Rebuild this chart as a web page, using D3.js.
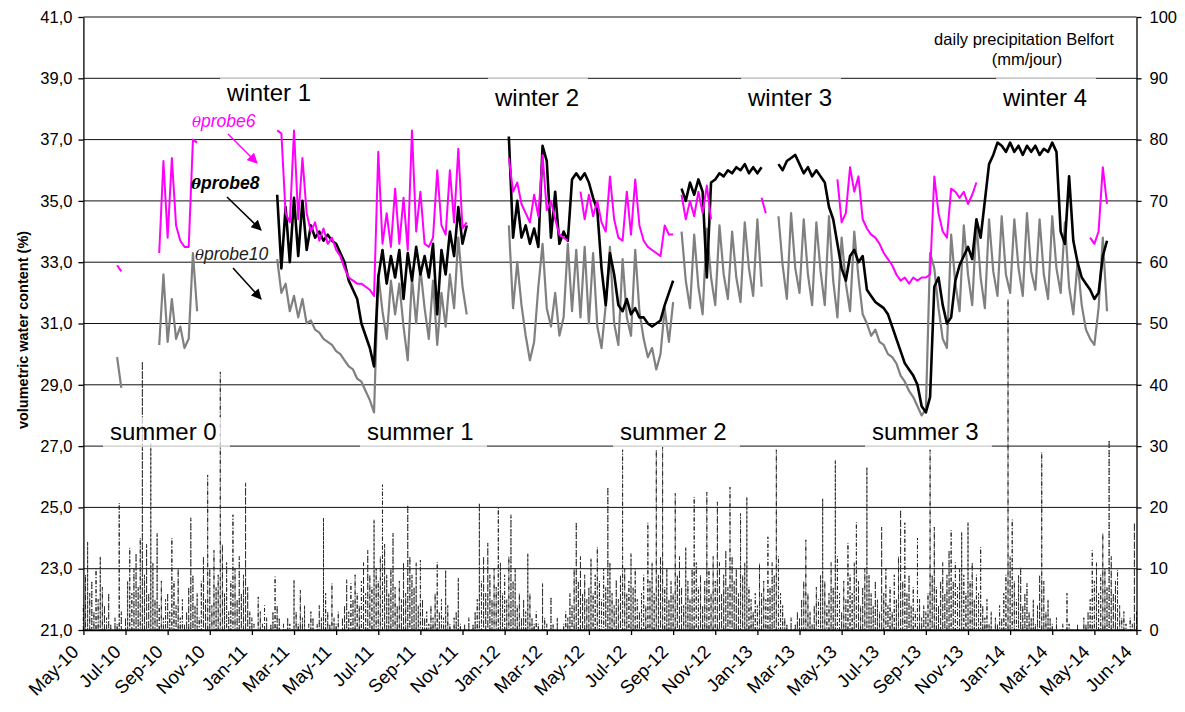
<!DOCTYPE html>
<html><head><meta charset="utf-8">
<script src="https://cdn.jsdelivr.net/npm/d3@7"></script>
<style>body{margin:0;background:#fff}svg{display:block;font-family:"Liberation Sans",Arial,sans-serif}</style>
</head><body><svg id="c" width="1185" height="712"></svg>
<script>
// ---------- DATA ----------
const xTickLabels = ["May-10","Jul-10","Sep-10","Nov-10","Jan-11","Mar-11","May-11","Jul-11","Sep-11","Nov-11","Jan-12","Mar-12","May-12","Jul-12","Sep-12","Nov-12","Jan-13","Mar-13","May-13","Jul-13","Sep-13","Nov-13","Jan-14","Mar-14","May-14","Jun-14"];
const leftTicks = [21,23,25,27,29,31,33,35,37,39,41];
const rightTicks = [0,10,20,30,40,50,60,70,80,90,100];
const probeStep = 0.1;   // one probe sample = 1/10 of a tick interval
const rainStep = 0.05;   // one rain sample = 1/20 of a tick interval

// segments: [start sample index, values]
const probe6 = [
  [8, [32.9,32.7]],
  [18,[33.3,36.3,33.8,36.4,34.2,33.7,33.5,33.5,37.0,36.9]],
  [46,[37.3,37.2,34.6,34.3,37.3,34.4,36.4,34.6,34.0,34.3,33.7,34.1,33.6,33.8,33.4,33.2,32.8,32.5,32.4,32.3,32.3,32.2,32.1,31.9,36.6,33.6,34.6,33.5,35.4,33.6,35.1,33.4,37.3,34.0,35.3,33.6,33.5,33.8,36.0,34.2,33.9,36.0,34.3,36.7,34.1,34.3]],
  [101,[36.4,35.3,35.6,34.9,34.6,34.3,35.2,34.5,36.5,34.7,35.0,34.4,33.9,33.8,33.7]],
  [118,[35.3,34.4,35.2,34.5,35.0,34.3,34.0,35.8,34.4,33.8,33.7,35.3,33.9,35.7,34.2,33.7,33.5,33.4,33.3,33.2,34.2,33.9,33.9]],
  [142,[35.2,34.4,35.0,34.5,35.3,34.6,35.5,34.4]],
  [161,[35.1,34.6]],
  [179,[35.7,34.3,34.6,36.1,35.3,35.8,34.4,34.1,33.9,33.8,33.6,33.3,33.1,32.9,32.6,32.4,32.5,32.3,32.5,32.4,32.5,32.5,32.6,35.8,34.6,34.0,33.8,35.4,35.3,35.1,35.3,34.9,35.2,35.6]],
  [239,[33.8,33.6,34.0,36.1,34.9]]
];
const probe8 = [
  [46,[35.2,32.8,34.8,33.0,35.1,33.2,35.0,33.4,34.2,33.8,34.0,33.7,33.9,33.7,33.6,33.3,33.0,32.4,32.1,31.8,31.0,30.6,30.2,29.6,32.5,33.4,32.3,33.2,32.5,33.4,31.8,33.3,32.4,33.5,32.6,33.2,32.5,33.6,31.3,33.4,32.6,34.0,33.2,34.8,33.6,34.2]],
  [101,[37.1,33.8,35.0,33.8,34.2,33.6,34.1,33.5,36.8,36.3,33.8,35.3,33.6,34.0,33.7,35.7,35.9,35.7,35.9,35.6,35.1,34.7,32.8,31.6,33.3,32.6,31.6,31.4,31.8,31.3,31.5,31.2,31.2,31.0,30.9,31.0,31.1,31.6,32.0,32.4]],
  [142,[35.4,35.0,35.6,35.2,35.7,35.3,32.5,35.6,35.7,35.9,35.8,36.0,35.9,36.1,36.0,36.2,35.9,36.1,35.9,36.1]],
  [165,[36.2,36.0,36.3,36.4,36.5,36.2,35.9,36.1,35.8,36.0,35.8,35.6,34.8,34.4,33.6,32.8,32.4,33.2,33.4,33.0,33.2,32.1,31.9,31.7,31.6,31.5,31.3,30.9,30.5,30.1,29.7,29.5,29.3,29.0,28.3,28.1,28.6,32.2,32.5,31.6,31.0,31.2,32.4,32.9,33.2,33.5,33.1,34.4,33.8,35.0,36.2,36.5,36.9,36.8,36.6,36.9,36.6,36.8,36.5,36.8,36.6,36.8,36.5,36.7,36.6,36.9,36.6,34.0,33.6,35.8,33.7,33.0,32.5,32.3,32.1,31.8,32.0,33.2,33.7]]
];
const probe10 = [
  [8, [29.9,28.9]],
  [18,[30.3,32.6,30.4,31.8,30.5,30.9,30.2,30.5,33.3,31.4]],
  [46,[33.1,32.0,32.3,31.4,31.9,31.2,31.8,31.0,31.1,30.8,30.7,30.5,30.4,30.3,30.1,30.0,29.8,29.6,29.5,29.2,29.1,28.8,28.5,28.1,32.6,31.4,30.5,32.4,31.3,32.3,30.9,29.8,32.5,31.0,32.8,31.5,30.5,32.4,30.3,32.0,30.9,32.6,31.5,33.8,32.2,31.3]],
  [101,[34.2,31.5,33.0,31.6,30.6,29.8,30.4,32.2,33.6,31.5,30.9,32.0,30.6,31.2,33.6,31.4,33.4,31.2,33.5,31.0,33.3,30.9,30.2,31.6,33.5,31.0,30.3,33.1,31.2,30.6,33.4,31.4,30.5,29.9,30.2,29.5,30.0,31.5,30.4,31.7]],
  [142,[34.0,32.4,31.5,33.9,32.2,31.3,34.1,32.5,31.6,34.2,32.6,31.8,34.0,32.5,31.7,34.3,32.8,31.9,34.4,32.2]],
  [165,[34.5,32.9,31.8,34.6,32.8,32.0,34.4,32.6,31.6,34.3,32.7,31.6,34.5,32.4,31.2,33.8,32.3,31.4,34.0,32.5,
        31.3,31.0,30.6,30.8,30.4,30.3,30.0,29.9,29.7,29.3,29.1,28.8,28.6,28.3,28.0,28.2,
        33.3,32.8,31.5,30.5,30.2,33.9,32.3,31.4,34.2,32.6,31.6,34.3,32.5,31.5,34.4,32.7,31.9,34.5,32.6,32.0,
        34.4,32.8,31.9,34.6,32.7,32.1,34.4,32.6,31.8,34.5,32.8,32.0,34.3,32.2,31.3,33.0,31.6,30.8,30.5,30.3,31.5,33.8,31.4]]
];
// daily precipitation Belfort (mm), one row per two-month tick interval
const rain = [
  4,9,14.4,6,8,3,10,5,12,7,4,2,6,1,0,2,1,20.7,3,0,
  2,8,13.4,6,10,12.5,7,15,43.8,9,14,6,30.5,11,5,15.8,4,8,2,5,
  6,3,15,8,4,10,2,5,1,3,7,18.3,9,4,6,2,8,12,5,25.3,
  10,4,13,7,9,42.1,14,6,11,3,8,18.8,10,5,12,6,9,24,7,3,
  2,1,0,5.4,3,1,4,2,0,1,3,8.7,4,2,0,1,0,2,1,0,
  8.2,3,1,6.5,2,4,0,1,3,2,0,1,4,2,18.3,6,3,1,7.6,2,
  1,3,0,2,4,8.2,3,7.6,5,9,6,4,8,11,6,13,9,7,18,10,
  8,12,23.7,14,9,6,10,15.8,7,4,8,5,11,6,20.4,12,9,7,11,4,
  11.4,5,2,3,1,4,2,6,11.1,3,5,2,9.8,4,1,0,2,3,8.5,1,
  0,1,0,2,0,1,3,5,20.7,8,12,6,14.2,9,5,10,7,19.9,11,6,
  9,5,12,18.8,8,10,4,6,2,5,3,12.5,6,2,1,3,1,0,7.6,2,
  1,0,5.4,1,0,2,0,0,1,3,2,6,4,10,17.6,8,12,6,9,5,
  7,11.7,6,9,13.5,8,5,10,7,23.3,11,6,4,8.2,5,9,29.4,10,6,8,
  12.5,7,10,5,3,6,9,4,17.5,8,11,6,29.4,9,12,29.9,7,10,5,8,
  6,22.3,9,12,7,4,13.5,8,5,10,21.7,11,7,9,4,8,22.5,10,6,12,
  8,20.9,11,6,9,13,7,23.3,12,8,10,6,19,9,11,21.7,7,5,3,6,
  4,10.9,6,8,5,15.2,7,11,9,29.4,12,6,4,2,1,0,2,0,1,3,
  2,5,8,14.7,6,3,1,4,7,5,9,21.5,8,4,6,11,7,27.7,12,6,
  3,8,5,14.2,9,6,11,17.6,8,4,7,10,26.6,9,6,4,8,5,3,16.8,
  6,10,4,7,3,9,5,12,19.6,8,17.5,6,9,4,7,3,15,5,2,4,
  3,6,29.4,9,16.8,7,4,8,11,6,9,13,16.3,8,11,7,10,16,9,6,
  17.6,8,11,5,9,6,13.5,4,2,5,1,3,0,2,1,4,2,6,9,54,
  12,18,8,5,9,10.3,4,6,7.6,3,2,5,1,4,9,29,8,3,5,2,
  1,0,2,0,0,1,0,6,1,0,0,0,1,0,0,2,1,3,5,13,
  8,11,6,9,15.8,10,7,31,12,6,8,9.8,4,2,3,1,0,2,1,17.5,
  3
];
const winterLabels = ["winter 1","winter 2","winter 3","winter 4"];
const summerLabels = ["summer 0","summer 1","summer 2","summer 3"];

// ---------- DRAW ----------
const svg = d3.select('#c');
const FONT = '"Liberation Sans", Arial, sans-serif';
const x = d3.scaleLinear().domain([0, 25]).range([83.4, 1136.5]);
const y = d3.scaleLinear().domain([21, 41]).range([630, 17]);
const yR = d3.scaleLinear().domain([0, 100]).range([630, 17]);

// gridlines
svg.append('g').selectAll('line').data(leftTicks).join('line')
  .attr('x1', x(0)).attr('x2', x(25))
  .attr('y1', d => y(d)).attr('y2', d => y(d))
  .attr('stroke', '#111').attr('stroke-width', 1);

// precipitation: one continuous dash-dot path, rising from 0 to each daily value and back
const rainPts = [];
rain.forEach((v, k) => {
  const t = k * rainStep;
  rainPts.push([t, 0], [t, v], [t, 0]);
});
svg.append('path').datum(rainPts)
  .attr('d', d3.line().x(d => x(d[0])).y(d => yR(d[1])))
  .attr('fill', 'none').attr('stroke', '#2a2a2a').attr('stroke-width', 1)
  .attr('stroke-dasharray', '4,2,1,2');

// probes
const probeLine = d3.line().x(d => x(d[0])).y(d => y(d[1]));
function drawProbe(segs, color, w) {
  const g = svg.append('g');
  segs.forEach(([s, vals]) => {
    g.append('path')
      .datum(vals.map((v, j) => [(s + j) * probeStep, v]))
      .attr('d', probeLine)
      .attr('fill', 'none').attr('stroke', color).attr('stroke-width', w)
      .attr('stroke-linejoin', 'round');
  });
}
drawProbe(probe10, '#808080', 2.2);
drawProbe(probe8, '#000000', 2.6);
drawProbe(probe6, '#ff00ff', 2.0);

// season label boxes (semi-transparent)
const winterPos = [[227, 101], [495, 106], [748, 106], [1003, 106]];
const summerPos = [[110, 440], [367, 440], [620, 440], [872, 440]];
const boxG = svg.append('g');
winterPos.forEach(([px, py]) => {
  boxG.append('rect').attr('x', px - 7).attr('y', y(39) - 0.5).attr('width', 100).attr('height', 30)
    .attr('fill', '#fff').attr('fill-opacity', 0.72);
});
summerPos.forEach(([px, py]) => {
  boxG.append('rect').attr('x', px - 7).attr('y', 417).attr('width', 127).attr('height', y(27) - 417 + 1)
    .attr('fill', '#fff').attr('fill-opacity', 0.72);
});
svg.append('g').selectAll('text').data(winterLabels).join('text')
  .attr('x', (d, i) => winterPos[i][0]).attr('y', (d, i) => winterPos[i][1])
  .attr('font-size', 24).attr('fill', '#000').text(d => d);
svg.append('g').selectAll('text').data(summerLabels).join('text')
  .attr('x', (d, i) => summerPos[i][0]).attr('y', (d, i) => summerPos[i][1])
  .attr('font-size', 24).attr('fill', '#000').text(d => d);

// axes
const fmt = d => d.toFixed(1).replace('.', ',');
const gL = svg.append('g').attr('transform', `translate(${x(0)},0)`)
  .call(d3.axisLeft(y).tickValues(leftTicks).tickFormat(fmt).tickSize(5).tickSizeOuter(0).tickPadding(6));
const gR = svg.append('g').attr('transform', `translate(${x(25)},0)`)
  .call(d3.axisRight(yR).tickValues(rightTicks).tickSize(5).tickSizeOuter(0).tickPadding(8));
const gB = svg.append('g').attr('transform', `translate(0,${y(21)})`)
  .call(d3.axisBottom(x).tickValues(d3.range(26)).tickFormat(i => xTickLabels[i]).tickSize(5).tickSizeOuter(0));
[gL, gR, gB].forEach(g => {
  g.attr('font-family', FONT).attr('font-size', 16.5);
  g.selectAll('path,line').attr('stroke', '#000').attr('stroke-width', 1.3);
  g.selectAll('text').attr('fill', '#000');
});
gB.attr('font-size', 18.5);
gB.selectAll('text').attr('y', null).attr('dy', null)
  .attr('text-anchor', 'end').attr('transform', 'translate(-4,23) rotate(-45)');

// y title
svg.append('text').attr('transform', 'translate(28,330) rotate(-90)')
  .attr('text-anchor', 'middle').attr('font-size', 14.5).attr('font-weight', 'bold')
  .text('volumetric water content (%)');

// top-right caption
svg.append('text').attr('x', 1024).attr('y', 45).attr('text-anchor', 'middle').attr('font-size', 16.5)
  .text('daily precipitation Belfort');
svg.append('text').attr('x', 1027).attr('y', 65).attr('text-anchor', 'middle').attr('font-size', 16.5)
  .text('(mm/jour)');

// probe annotations
const defs = svg.append('defs');
[['m', '#ff00ff'], ['k', '#000']].forEach(([id, c]) => {
  defs.append('marker').attr('id', 'ah' + id).attr('viewBox', '0 0 10 10').attr('refX', 9).attr('refY', 5)
    .attr('markerWidth', 7).attr('markerHeight', 7).attr('orient', 'auto')
    .append('path').attr('d', 'M0,0 L10,5 L0,10 z').attr('fill', c);
});
const ann = [
  {t: 'probe6', c: '#ff00ff', x: 192, y: 127, w: 'normal', a: [228, 134, 257, 163], m: 'm'},
  {t: 'probe8', c: '#000', x: 191, y: 189, w: 'bold', a: [227, 197, 261, 230], m: 'k'},
  {t: 'probe10', c: '#222', x: 195, y: 260, w: 'normal', a: [233, 268, 261, 299], m: 'k'}
];
ann.forEach(d => {
  const t = svg.append('text').attr('x', d.x).attr('y', d.y).attr('font-size', 17.5)
    .attr('font-style', 'italic').attr('font-weight', d.w).attr('fill', d.c);
  t.append('tspan').attr('font-family', '"DejaVu Serif", serif').attr('font-size', 15).text('θ');
  t.append('tspan').text(d.t);
  svg.append('line').attr('x1', d.a[0]).attr('y1', d.a[1]).attr('x2', d.a[2]).attr('y2', d.a[3])
    .attr('stroke', d.c === '#222' ? '#000' : d.c).attr('stroke-width', 1.5)
    .attr('marker-end', `url(#ah${d.m})`);
});
</script></body></html>
